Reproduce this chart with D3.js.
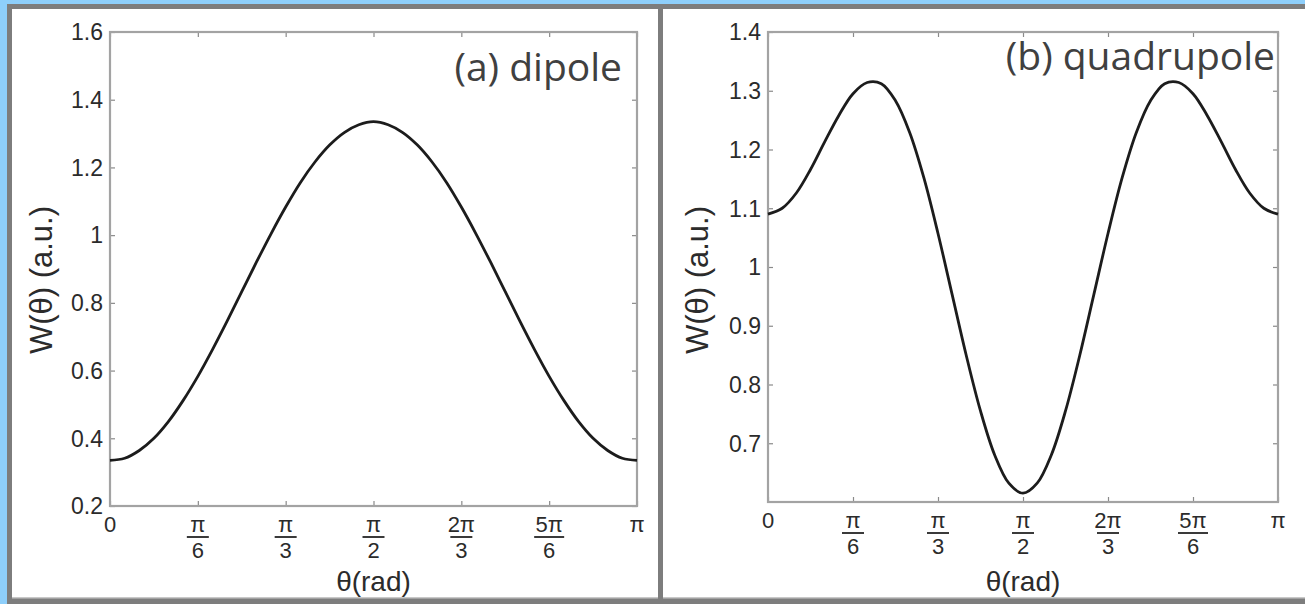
<!DOCTYPE html>
<html>
<head>
<meta charset="utf-8">
<script src="https://cdn.jsdelivr.net/npm/d3@7/dist/d3.min.js"></script>
<style>
  html, body { margin: 0; padding: 0; background: #8ecffb; }
  svg { display: block; }
  text { font-family: "Liberation Sans", Arial, sans-serif; }
</style>
</head>
<body>
<svg id="fig" width="1305" height="604"></svg>
<script>
// Emission angle samples (degrees, 0..180)
const thetaDeg = [0, 5, 10, 15, 20, 25, 30, 35, 40, 45, 50, 55, 60, 65, 70, 75, 80, 85, 90,
                  95, 100, 105, 110, 115, 120, 125, 130, 135, 140, 145, 150, 155, 160, 165, 170, 175, 180];

// Angular distribution W(θ), dipole transition
const dipoleW = [0.335, 0.341, 0.364, 0.400, 0.450, 0.512, 0.583, 0.662, 0.746, 0.833,
                 0.920, 1.004, 1.083, 1.155, 1.216, 1.266, 1.303, 1.326, 1.335,
                 1.326, 1.303, 1.266, 1.216, 1.155, 1.083, 1.004, 0.920, 0.833,
                 0.746, 0.662, 0.583, 0.512, 0.450, 0.400, 0.364, 0.341, 0.335];

// Angular distribution W(θ), quadrupole transition
const quadW = [1.090, 1.100, 1.126, 1.166, 1.213, 1.258, 1.295, 1.314, 1.312, 1.283,
               1.229, 1.152, 1.057, 0.953, 0.849, 0.755, 0.680, 0.632, 0.615,
               0.632, 0.680, 0.755, 0.849, 0.953, 1.057, 1.152, 1.229, 1.283,
               1.312, 1.314, 1.295, 1.258, 1.213, 1.166, 1.126, 1.100, 1.090];

// x ticks in degrees with fraction-of-π labels
const xTickValues = [0, 30, 60, 90, 120, 150, 180];
const xTickNum = ["0", "π", "π", "π", "2π", "5π", "π"];
const xTickDen = ["", "6", "3", "2", "3", "6", ""];

// y ticks per panel
const dipoleYTicks = [0.2, 0.4, 0.6, 0.8, 1.0, 1.2, 1.4, 1.6];
const dipoleYLabels = ["0.2", "0.4", "0.6", "0.8", "1", "1.2", "1.4", "1.6"];
const quadYTicks = [0.7, 0.8, 0.9, 1.0, 1.1, 1.2, 1.3, 1.4];
const quadYLabels = ["0.7", "0.8", "0.9", "1", "1.1", "1.2", "1.3", "1.4"];

const svg = d3.select("#fig");
const W = 1305, H = 604;
const frameGray = "#7d7d7d";

// window frame: white sheet with grey edges
svg.append("rect").attr("x", 0).attr("y", 0).attr("width", W).attr("height", H).attr("fill", "#8ecffb");
svg.append("rect").attr("x", 12).attr("y", 9).attr("width", W - 12).attr("height", 589).attr("fill", "#ffffff");
svg.append("rect").attr("x", 7).attr("y", 4).attr("width", W - 7).attr("height", 5).attr("fill", frameGray);
svg.append("rect").attr("x", 7).attr("y", 4).attr("width", 5).attr("height", H - 4).attr("fill", frameGray);
svg.append("rect").attr("x", 7).attr("y", 598).attr("width", W - 7).attr("height", 6).attr("fill", frameGray);
svg.append("rect").attr("x", 12).attr("y", 597).attr("width", W - 12).attr("height", 1.5).attr("fill", "#c8c8c8");
svg.append("rect").attr("x", 658).attr("y", 4).attr("width", 5).attr("height", H - 4).attr("fill", frameGray);

function panel(opt) {
  const { x0, x1, y0, y1, yDomain, yTicks, yLabels, values, label, labelX, labelY, titleX } = opt;
  const x = d3.scaleLinear().domain([0, 180]).range([x0, x1]);
  const y = d3.scaleLinear().domain(yDomain).range([y1, y0]);
  const g = svg.append("g");
  const axisGray = "#a3a3a3";
  const tick = 5;

  // inward ticks on all four sides
  const axes = [
    { ax: d3.axisBottom(x).tickValues(xTickValues).tickSize(-tick).tickFormat(""), t: `translate(0,${y1})` },
    { ax: d3.axisTop(x).tickValues(xTickValues).tickSize(-tick).tickFormat(""), t: `translate(0,${y0})` },
    { ax: d3.axisLeft(y).tickValues(yTicks).tickSize(-tick).tickFormat(""), t: `translate(${x0},0)` },
    { ax: d3.axisRight(y).tickValues(yTicks).tickSize(-tick).tickFormat(""), t: `translate(${x1},0)` }
  ];
  axes.forEach(a => {
    const ag = g.append("g").attr("transform", a.t).call(a.ax);
    ag.select(".domain").remove();
    ag.selectAll("line").attr("stroke", "#8a8a8a").attr("stroke-width", 1.2);
  });

  // plot box
  g.append("rect").attr("x", x0).attr("y", y0).attr("width", x1 - x0).attr("height", y1 - y0)
    .attr("fill", "none").attr("stroke", axisGray).attr("stroke-width", 2.2);

  // y tick labels
  g.selectAll(".ylab").data(yTicks).join("text")
    .attr("x", x0 - 7).attr("y", d => y(d)).attr("dy", "0.36em")
    .attr("text-anchor", "end").attr("font-size", 23).attr("fill", "#2b2b2b")
    .text((d, i) => yLabels[i]);

  // x tick labels as fractions of π
  const xl = g.selectAll(".xlab").data(xTickValues).join("g")
    .attr("transform", d => `translate(${x(d)},${y1})`);
  xl.append("text").attr("y", 18).attr("dy", "0.36em").attr("text-anchor", "middle")
    .attr("font-size", 22).attr("fill", "#2b2b2b").text((d, i) => xTickNum[i]);
  xl.filter((d, i) => xTickDen[i] !== "").append("line")
    .attr("x1", (d, i) => xTickNum[i].length > 1 ? -15 : -11)
    .attr("x2", (d, i) => xTickNum[i].length > 1 ? 15 : 11)
    .attr("y1", 31).attr("y2", 31).attr("stroke", "#3a3a3a").attr("stroke-width", 2);
  xl.append("text").attr("y", 44).attr("dy", "0.36em").attr("text-anchor", "middle")
    .attr("font-size", 22).attr("fill", "#2b2b2b").text((d, i) => xTickDen[i]);

  // axis titles
  g.append("text").attr("x", (x0 + x1) / 2).attr("y", 591).attr("text-anchor", "middle")
    .attr("font-size", 28).attr("fill", "#2b2b2b").text("θ(rad)");
  g.append("text").attr("transform", `translate(${titleX},280) rotate(-90)`).attr("text-anchor", "middle")
    .attr("font-size", 31).attr("fill", "#2b2b2b").text("W(θ) (a.u.)");

  // curve
  const line = d3.line().x((d, i) => x(thetaDeg[i])).y(d => y(d)).curve(d3.curveCatmullRom.alpha(0.5));
  g.append("path").datum(values).attr("d", line)
    .attr("fill", "none").attr("stroke", "#1c1c1c").attr("stroke-width", 2.8);

  // panel tag
  g.append("text").attr("x", labelX).attr("y", labelY).attr("text-anchor", "end")
    .style("font-family", "'Open Sans', 'Noto Sans', sans-serif")
    .attr("font-size", 39).attr("fill", "#404040").text(label);
}

panel({ x0: 110, x1: 637, y0: 32, y1: 506, yDomain: [0.2, 1.6], yTicks: dipoleYTicks, yLabels: dipoleYLabels,
        values: dipoleW, label: "(a) dipole", labelX: 622, labelY: 81, titleX: 52 });
panel({ x0: 768, x1: 1278, y0: 32, y1: 502, yDomain: [0.6, 1.4], yTicks: quadYTicks, yLabels: quadYLabels,
        values: quadW, label: "(b) quadrupole", labelX: 1275, labelY: 70, titleX: 708 });
</script>
</body>
</html>
